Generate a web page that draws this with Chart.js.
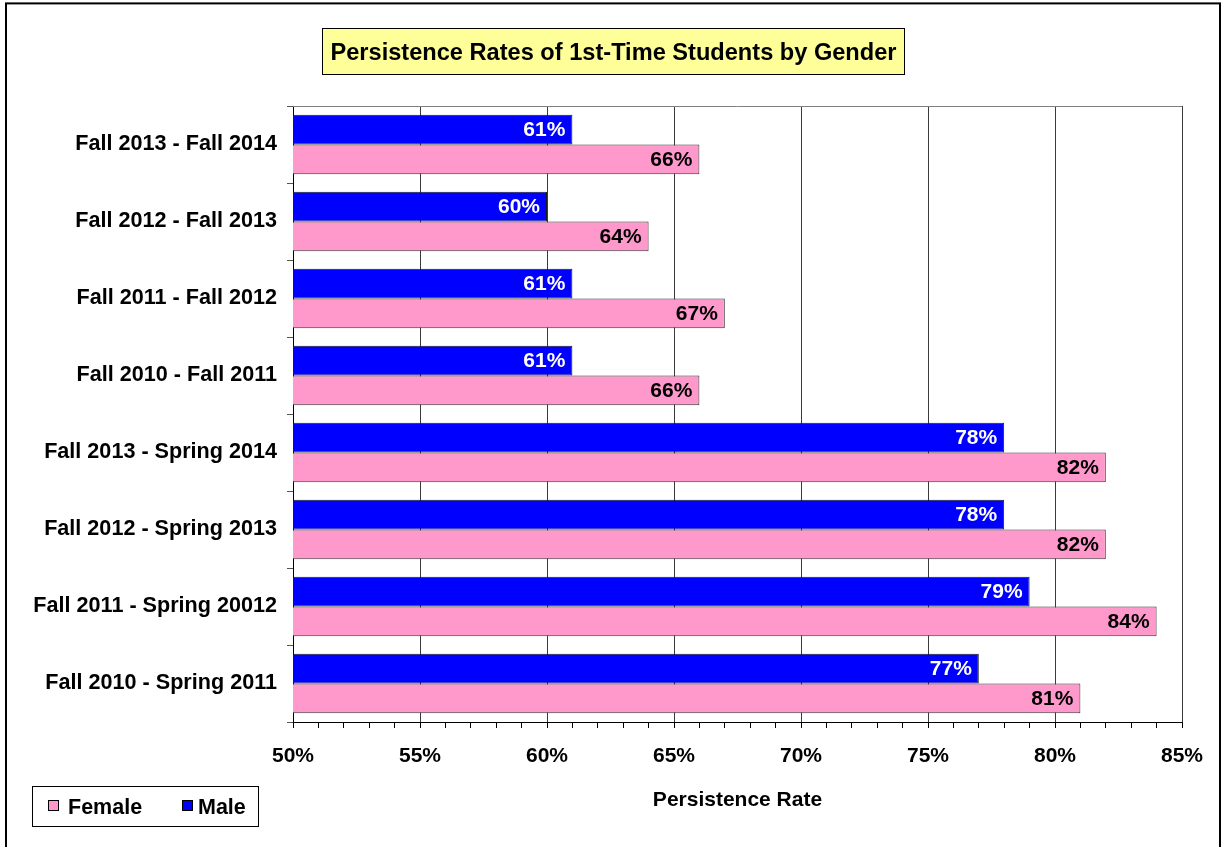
<!DOCTYPE html>
<html>
<head>
<meta charset="utf-8">
<script src="https://cdn.jsdelivr.net/npm/chart.js@4.4.1/dist/chart.umd.min.js"></script>
<style>
  html, body { margin: 0; padding: 0; background: #fff; }
  canvas { display: block; }
</style>
</head>
<body>
<canvas id="c" width="1224" height="847" style="width:1224px;height:847px"></canvas>
<script>
const chartTitle = 'Persistence Rates of 1st-Time Students by Gender';
const axisTitle = 'Persistence Rate';
const categories = [
  'Fall 2013 - Fall 2014',
  'Fall 2012 - Fall 2013',
  'Fall 2011 - Fall 2012',
  'Fall 2010 - Fall 2011',
  'Fall 2013 - Spring 2014',
  'Fall 2012 - Spring 2013',
  'Fall 2011 - Spring 20012',
  'Fall 2010 - Spring 2011'
];
const maleValues = [61, 60, 61, 61, 78, 78, 79, 77];
const femaleValues = [66, 64, 67, 66, 82, 82, 84, 81];
const xMajorTicks = [50, 55, 60, 65, 70, 75, 80, 85];
const xTickLabels = ['50%', '55%', '60%', '65%', '70%', '75%', '80%', '85%'];
const legendLabels = ['Female', 'Male'];

const FONT = '"Liberation Sans", Arial, sans-serif';
const PINK = '#FF99CC';
const BLUE = '#0000FF';

const decorPlugin = {
  id: 'decor',
  beforeDraw(chart) {
    const ctx = chart.ctx;
    ctx.save();
    ctx.fillStyle = '#fff';
    ctx.fillRect(0, 0, chart.width, chart.height);
    ctx.restore();
  },
  afterDraw(chart) {
    const ctx = chart.ctx;
    const ca = chart.chartArea;
    ctx.save();
    // plot top border
    ctx.strokeStyle = '#808080';
    ctx.lineWidth = 1;
    ctx.beginPath();
    ctx.moveTo(ca.left, Math.round(ca.top) + 0.5);
    ctx.lineTo(ca.right, Math.round(ca.top) + 0.5);
    ctx.stroke();

    // title box
    ctx.fillStyle = '#FFFF99';
    ctx.fillRect(322, 28, 582, 47);
    ctx.strokeStyle = '#000';
    ctx.lineWidth = 1;
    ctx.strokeRect(322.5, 28.5, 582, 46);
    ctx.fillStyle = '#000';
    ctx.font = 'bold 23.6px ' + FONT;
    ctx.textAlign = 'center';
    ctx.textBaseline = 'alphabetic';
    ctx.fillText(chartTitle, 613.5, 59.5);

    // legend
    ctx.strokeStyle = '#000';
    ctx.lineWidth = 1;
    ctx.fillStyle = '#fff';
    ctx.fillRect(32, 786, 227, 41);
    ctx.strokeRect(32.5, 786.5, 226, 40);
    const items = [
      {label: legendLabels[0], color: PINK, sx: 48, tx: 68},
      {label: legendLabels[1], color: BLUE, sx: 182, tx: 198}
    ];
    ctx.font = 'bold 21.5px ' + FONT;
    ctx.textAlign = 'left';
    ctx.textBaseline = 'alphabetic';
    items.forEach(it => {
      ctx.fillStyle = it.color;
      ctx.fillRect(it.sx, 800, 11, 11);
      ctx.strokeStyle = '#000';
      ctx.strokeRect(it.sx + 0.5, 800.5, 10, 10);
      ctx.fillStyle = '#000';
      ctx.fillText(it.label, it.tx, 813.5);
    });

    // outer frame
    ctx.strokeStyle = '#000';
    ctx.lineWidth = 2;
    ctx.strokeRect(6, 3.4, 1214, 900);
    ctx.restore();
  }
};

const barLabelPlugin = {
  id: 'barLabels',
  afterDatasetsDraw(chart) {
    const ctx = chart.ctx;
    ctx.save();
    ctx.font = 'bold 21px ' + FONT;
    ctx.textAlign = 'right';
    ctx.textBaseline = 'middle';
    chart.data.datasets.forEach((ds, di) => {
      const meta = chart.getDatasetMeta(di);
      ctx.fillStyle = di === 0 ? '#fff' : '#000';
      meta.data.forEach((el, i) => {
        ctx.fillText(ds.data[i] + '%', el.x - 7, el.y + 1);
      });
    });
    ctx.restore();
  }
};

new Chart(document.getElementById('c'), {
  type: 'bar',
  data: {
    labels: categories,
    datasets: [
      {
        label: legendLabels[1],
        data: maleValues,
        backgroundColor: BLUE,
        borderColor: '#1a1a1a',
        borderWidth: 1,
        borderSkipped: false,
        barPercentage: 1,
        categoryPercentage: 0.77
      },
      {
        label: legendLabels[0],
        data: femaleValues,
        backgroundColor: PINK,
        borderColor: '#333',
        borderWidth: 1,
        borderSkipped: false,
        barPercentage: 1,
        categoryPercentage: 0.77
      }
    ]
  },
  options: {
    indexAxis: 'y',
    responsive: false,
    animation: false,
    devicePixelRatio: 1,
    layout: { padding: { top: 106, left: 0, right: 42, bottom: 0 } },
    plugins: {
      legend: { display: false },
      title: { display: false },
      tooltip: { enabled: false }
    },
    scales: {
      x: {
        type: 'linear',
        min: 50,
        max: 85,
        afterFit(scale) { scale.height = 125; },
        ticks: {
          stepSize: 1,
          maxTicksLimit: 100,
          autoSkip: false,
          maxRotation: 0,
          padding: 16,
          color: '#000',
          font: { family: FONT, size: 21, weight: 'bold' },
          callback(v) {
            const idx = xMajorTicks.indexOf(v);
            return idx >= 0 ? xTickLabels[idx] : '';
          }
        },
        grid: {
          color(ctx) {
            return ctx.tick && xMajorTicks.indexOf(ctx.tick.value) >= 0 ? '#3a3a3a' : 'rgba(0,0,0,0)';
          },
          tickColor: '#000',
          tickLength: 6,
          lineWidth: 1
        },
        border: { color: '#000', width: 1 },
        title: {
          display: true,
          text: axisTitle,
          color: '#000',
          font: { family: FONT, size: 21, weight: 'bold' },
          padding: { top: 0, bottom: 34 }
        }
      },
      y: {
        type: 'category',
        offset: true,
        afterFit(scale) { scale.width = 293; },
        ticks: {
          padding: 10,
          color: '#000',
          autoSkip: false,
          font: { family: FONT, size: 21.6, weight: 'bold' }
        },
        grid: {
          offset: true,
          drawOnChartArea: false,
          drawTicks: true,
          tickLength: 6,
          tickColor: '#555'
        },
        border: { color: '#000', width: 1 }
      }
    }
  },
  plugins: [decorPlugin, barLabelPlugin]
});
</script>
</body>
</html>
